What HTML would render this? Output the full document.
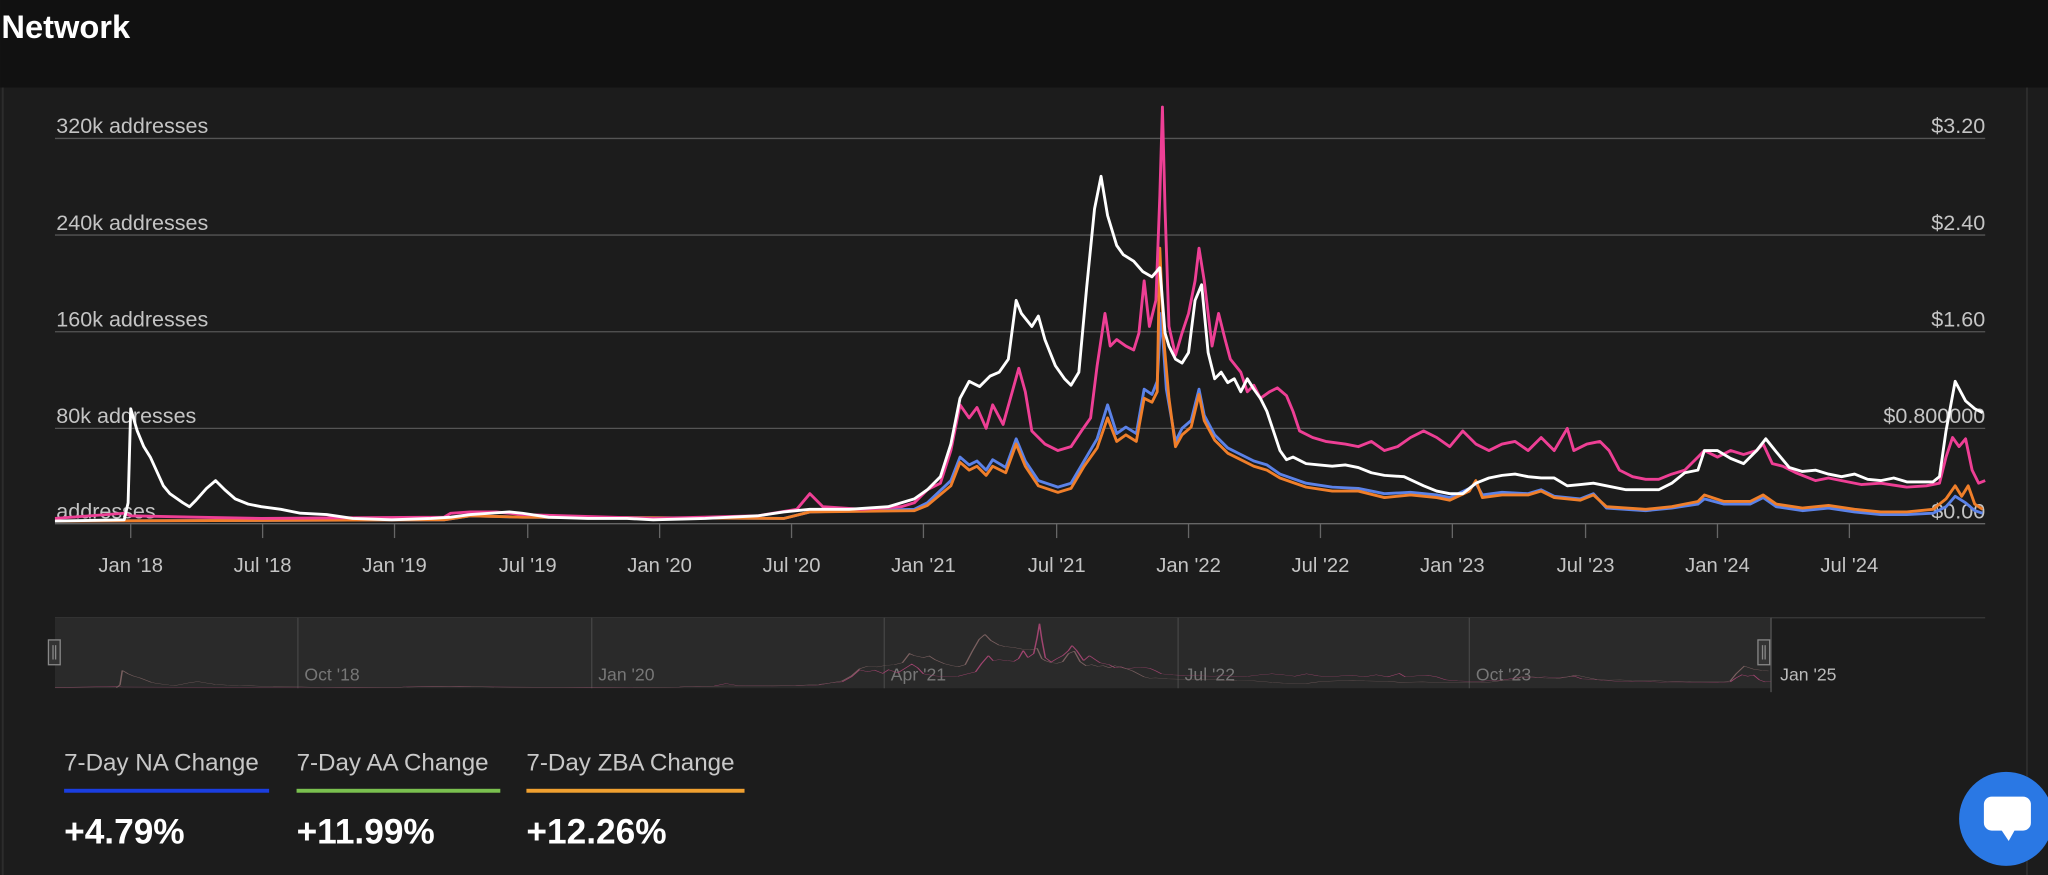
<!DOCTYPE html>
<html><head><meta charset="utf-8"><style>
html,body{margin:0;padding:0;background:#1c1c1c;}
svg{display:block;}
text{font-family:"Liberation Sans",sans-serif;}
</style></head><body>
<svg width="2048" height="875" viewBox="0 0 1568 670" xmlns="http://www.w3.org/2000/svg">
<defs>
<path id="pw" d="M42 399 L95 398 L98 385 L100 313 L105 330 L110 342 L115 350 L125 372 L130 378 L140 385 L145 388 L150 383 L158 374 L165 368 L172 375 L180 382 L190 386 L200 388 L215 390 L230 393 L250 394 L270 397 L300 398 L330 397 L345 396 L360 394 L375 393 L390 392 L400 393 L420 396 L450 397 L480 397 L500 398 L540 397 L580 395 L600 392 L620 390 L650 390 L680 388 L700 382 L710 375 L720 365 L728 340 L735 305 L742 292 L750 296 L758 288 L765 285 L772 275 L778 230 L782 240 L790 250 L795 242 L800 260 L808 280 L815 290 L820 295 L826 285 L832 220 L838 160 L843 135 L848 165 L855 188 L860 195 L868 200 L875 208 L882 212 L888 205 L892 255 L895 265 L900 275 L905 278 L910 270 L915 230 L920 218 L925 270 L930 290 L935 285 L940 293 L945 290 L950 300 L955 290 L960 298 L965 305 L970 315 L975 330 L980 345 L985 352 L990 350 L1000 355 L1010 356 L1020 357 L1030 356 L1040 358 L1050 362 L1060 364 L1075 365 L1090 372 L1100 376 L1110 378 L1120 378 L1130 370 L1140 366 L1150 364 L1160 363 L1170 365 L1180 366 L1190 366 L1200 372 L1210 371 L1220 370 L1230 372 L1245 375 L1260 375 L1270 375 L1280 370 L1290 362 L1300 360 L1305 345 L1315 345 L1325 351 L1335 355 L1345 345 L1352 336 L1360 346 L1370 358 L1380 361 L1390 360 L1400 363 L1410 365 L1420 363 L1430 367 L1440 368 L1450 366 L1460 369 L1470 369 L1480 369 L1485 365 L1490 330 L1497 292 L1505 307 L1512 313 L1518 316"/>
<path id="pp" d="M42 397 L95 393 L100 395 L150 396 L200 397 L340 396 L345 393 L360 392 L380 392 L390 393 L400 394 L500 397 L580 395 L610 390 L620 378 L630 388 L660 390 L690 388 L700 385 L710 375 L720 370 L728 345 L735 310 L742 320 L748 312 L755 328 L760 310 L768 325 L775 300 L780 282 L785 300 L790 330 L800 340 L810 345 L820 342 L828 330 L835 320 L840 280 L846 240 L850 265 L855 260 L862 265 L868 268 L872 255 L876 215 L880 250 L885 230 L888 150 L890 82 L892 160 L895 250 L900 272 L905 255 L910 240 L915 215 L918 190 L922 215 L928 265 L933 240 L938 260 L942 275 L950 285 L955 300 L960 295 L965 305 L972 300 L978 297 L985 303 L990 315 L995 330 L1005 335 L1015 338 L1030 340 L1040 342 L1050 338 L1060 345 L1070 342 L1080 335 L1090 330 L1100 335 L1110 342 L1120 330 L1130 340 L1140 345 L1150 340 L1160 338 L1170 345 L1180 335 L1190 345 L1200 328 L1205 345 L1215 340 L1225 338 L1232 345 L1240 360 L1250 365 L1260 367 L1270 367 L1280 363 L1290 360 L1300 350 L1305 345 L1315 350 L1325 345 L1335 348 L1345 345 L1350 340 L1357 355 L1365 357 L1375 362 L1390 368 L1400 366 L1410 368 L1425 371 L1440 370 L1460 373 L1475 372 L1485 370 L1490 350 L1495 335 L1500 342 L1505 336 L1510 360 L1515 370 L1520 368"/>
</defs>
<rect x="0" y="0" width="1568" height="67" fill="#111"/>
<rect x="0" y="67" width="1568" height="603" fill="#1c1c1c"/>
<line x1="2" y1="67" x2="2" y2="670" stroke="#2c2c2c" stroke-width="1.5"/>
<line x1="1552" y1="67" x2="1552" y2="670" stroke="#2c2c2c" stroke-width="1.5"/>
<text x="1" y="29" fill="#fff" font-size="25" font-weight="bold">Network</text>

<g stroke="#555" stroke-width="1">
<line x1="42" y1="106" x2="1520" y2="106"/><line x1="42" y1="180" x2="1520" y2="180"/>
<line x1="42" y1="254" x2="1520" y2="254"/><line x1="42" y1="328" x2="1520" y2="328"/>
<line x1="42" y1="401" x2="1520" y2="401" stroke="#666"/>
</g>
<g fill="#c4c4c4" font-size="16.5">
<text x="43" y="102">320k addresses</text><text x="43" y="176">240k addresses</text>
<text x="43" y="250">160k addresses</text><text x="43" y="324">80k addresses</text>
<text x="43" y="397">addresses</text>
<g text-anchor="end"><text x="1520" y="102">$3.20</text><text x="1520" y="176">$2.40</text>
<text x="1520" y="250">$1.60</text><text x="1520" y="324">$0.800000</text><text x="1520" y="397">$0.00</text></g>
</g>
<g stroke="#666" stroke-width="1">
<line x1="100" y1="401" x2="100" y2="412"/><line x1="201" y1="401" x2="201" y2="412"/><line x1="302" y1="401" x2="302" y2="412"/><line x1="404" y1="401" x2="404" y2="412"/><line x1="505" y1="401" x2="505" y2="412"/><line x1="606" y1="401" x2="606" y2="412"/><line x1="707" y1="401" x2="707" y2="412"/><line x1="809" y1="401" x2="809" y2="412"/><line x1="910" y1="401" x2="910" y2="412"/><line x1="1011" y1="401" x2="1011" y2="412"/><line x1="1112" y1="401" x2="1112" y2="412"/><line x1="1214" y1="401" x2="1214" y2="412"/><line x1="1315" y1="401" x2="1315" y2="412"/><line x1="1416" y1="401" x2="1416" y2="412"/>
</g>
<g fill="#c4c4c4" font-size="15.5" text-anchor="middle">
<text x="100" y="438">Jan '18</text><text x="201" y="438">Jul '18</text><text x="302" y="438">Jan '19</text><text x="404" y="438">Jul '19</text><text x="505" y="438">Jan '20</text><text x="606" y="438">Jul '20</text><text x="707" y="438">Jan '21</text><text x="809" y="438">Jul '21</text><text x="910" y="438">Jan '22</text><text x="1011" y="438">Jul '22</text><text x="1112" y="438">Jan '23</text><text x="1214" y="438">Jul '23</text><text x="1315" y="438">Jan '24</text><text x="1416" y="438">Jul '24</text>
</g>

<g fill="none" stroke-width="2.2" stroke-linejoin="round">
<path d="M42 399 L340 398 L360 395 L400 396 L600 397 L620 392 L700 390 L710 385 L728 368 L735 350 L742 356 L748 353 L755 360 L760 352 L770 358 L778 336 L785 353 L795 368 L810 373 L820 370 L830 353 L840 336 L848 310 L855 332 L862 327 L870 332 L876 298 L882 302 L886 292 L889 240 L893 298 L900 338 L905 328 L912 322 L918 298 L922 318 L930 333 L940 343 L950 348 L960 353 L970 356 L980 363 L1000 370 L1020 373 L1040 374 L1060 378 L1080 377 L1100 379 L1110 381 L1125 374 L1130 370 L1135 379 L1150 377 L1170 378 L1180 375 L1190 380 L1210 382 L1220 378 L1230 389 L1260 391 L1280 389 L1300 386 L1305 382 L1320 386 L1340 386 L1350 381 L1360 388 L1380 391 L1400 389 L1420 392 L1440 394 L1460 394 L1480 393 L1490 388 L1497 380 L1505 385 L1512 391 L1518 393" stroke="#5b82e8"/>
<path d="M42 399 L340 398 L360 395 L400 396 L600 397 L620 392 L700 391 L710 387 L728 372 L735 354 L742 360 L748 357 L755 364 L760 357 L770 362 L778 340 L785 357 L795 372 L810 377 L820 374 L830 357 L840 343 L848 320 L855 338 L862 333 L870 338 L876 305 L882 308 L886 300 L888 190 L891 260 L895 305 L900 342 L905 333 L912 327 L918 302 L922 322 L930 337 L940 347 L950 352 L960 357 L970 360 L980 366 L1000 373 L1020 376 L1040 376 L1060 381 L1080 379 L1100 381 L1110 383 L1125 376 L1130 368 L1135 381 L1150 379 L1170 379 L1180 376 L1190 381 L1210 383 L1220 379 L1230 388 L1260 390 L1280 388 L1300 384 L1305 379 L1320 384 L1340 384 L1350 379 L1360 386 L1380 389 L1400 387 L1420 390 L1440 392 L1460 392 L1480 390 L1490 382 L1497 372 L1502 380 L1507 372 L1512 386 L1518 390" stroke="#f07f2a"/>
<use href="#pp" stroke="#ee3f95"/>
<use href="#pw" stroke="#ffffff"/>
</g>

<line x1="42" y1="473" x2="1520" y2="473" stroke="#3a3a3a"/>
<rect x="42" y="473" width="1314" height="54" fill="#2a2a2a"/>
<g stroke="#444"><line x1="228" y1="473" x2="228" y2="527"/><line x1="453" y1="473" x2="453" y2="527"/><line x1="677" y1="473" x2="677" y2="527"/><line x1="902" y1="473" x2="902" y2="527"/><line x1="1125" y1="473" x2="1125" y2="527"/></g>
<line x1="1356" y1="473" x2="1356" y2="530" stroke="#555"/>
<g fill="#777" font-size="13.5"><text x="233" y="521">Oct '18</text><text x="458" y="521">Jan '20</text><text x="682" y="521">Apr '21</text><text x="907" y="521">Jul '22</text><text x="1130" y="521">Oct '23</text></g>
<text x="1363" y="521" fill="#bbb" font-size="13.5">Jan '25</text>
<g transform="translate(4.66,464.8) scale(0.889,0.155)" fill="none" stroke-width="1.3">
<use href="#pp" stroke="#a0446f" vector-effect="non-scaling-stroke"/>
<use href="#pw" stroke="#7a6060" vector-effect="non-scaling-stroke"/>
</g>
<rect x="37" y="490" width="9" height="19" fill="#333" stroke="#888"/>
<line x1="40.5" y1="494" x2="40.5" y2="505" stroke="#888"/><line x1="42.5" y1="494" x2="42.5" y2="505" stroke="#888"/>
<rect x="1346" y="490" width="9" height="19" fill="#333" stroke="#888"/>
<line x1="1349.5" y1="494" x2="1349.5" y2="505" stroke="#888"/><line x1="1351.5" y1="494" x2="1351.5" y2="505" stroke="#888"/>

<g fill="#c8c8c8" font-size="18.5"><text x="49" y="590">7-Day NA Change</text><text x="227" y="590">7-Day AA Change</text><text x="403" y="590">7-Day ZBA Change</text></g>
<rect x="49" y="604" width="157" height="3" fill="#1a3ee0"/>
<rect x="227" y="604" width="156" height="3" fill="#7ac04f"/>
<rect x="403" y="604" width="167" height="3" fill="#f0a030"/>
<g fill="#fff" font-size="27" font-weight="bold"><text x="49" y="646">+4.79%</text><text x="227" y="646">+11.99%</text><text x="403" y="646">+12.26%</text></g>

<circle cx="1536" cy="627" r="36" fill="#2a78e4"/>
<rect x="1519" y="610" width="36" height="26" rx="6" fill="#fff"/>
<path d="M1532 635 L1538 644 L1543 635 Z" fill="#fff"/>
</svg>
</body></html>
